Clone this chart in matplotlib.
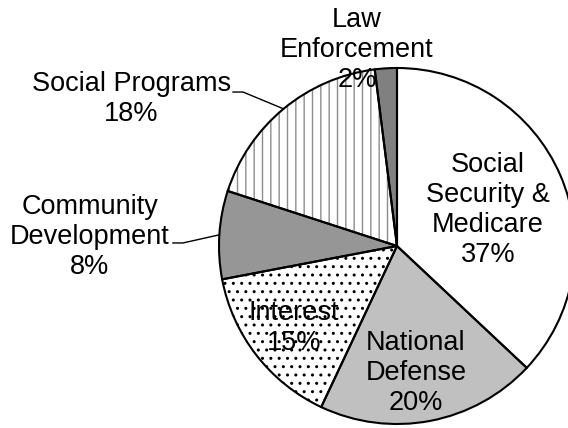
import numpy as np
import matplotlib
matplotlib.use("Agg")
import matplotlib.pyplot as plt

plt.rcParams['font.family'] = ['Liberation Sans', 'DejaVu Sans']
plt.rcParams['hatch.linewidth'] = 1.0

# Federal spending shares, clockwise from the top
labels = ["Social\nSecurity &\nMedicare", "National\nDefense", "Interest",
          "Community\nDevelopment", "Social Programs", "Law\nEnforcement"]
shares = [37, 20, 15, 8, 18, 2]

face_colors = ["white", "#c0c0c0", "white", "#969696", "white", "#808080"]
hatches = [None, None, "..", None, "||", None]
hatch_colors = ["black", "black", "black", "black", "#8c8c8c", "black"]

# label centres in pie-radius units
label_pos = [(0.51, 0.20), (0.107, -0.713), (-0.579, -0.461),
             (-1.725, 0.05), (-1.494, 0.826), (-0.225, 1.10)]

fig = plt.figure(figsize=(5.68, 4.28), dpi=100)
ax = fig.add_axes([0, 0, 1, 1])

# filled, hatched wedges (hatch colour follows the edge colour)
wedges, _ = ax.pie(shares, startangle=90, counterclock=False, radius=1,
                   colors=face_colors,
                   wedgeprops=dict(linewidth=0))
for w, h, hc in zip(wedges, hatches, hatch_colors):
    w.set_edgecolor(hc)
    if h:
        w.set_hatch(h)

# black outlines on top
outline, _ = ax.pie(shares, startangle=90, counterclock=False, radius=1,
                    wedgeprops=dict(facecolor="none", edgecolor="black", linewidth=1.5))

for (x, y), lab, s in zip(label_pos, labels, shares):
    ax.text(x, y, f"{lab}\n{s}%", ha="center", va="center", fontsize=19.5,
            linespacing=1.2)

# leader lines for the two outside labels
leaders = {3: (-1.259, -1.203, 0.017), 4: (-0.921, -0.865, 0.865)}
for i, (x0, x1, yl) in leaders.items():
    w = wedges[i]
    mid = np.deg2rad((w.theta1 + w.theta2) / 2)
    ax.plot([x0, x1, np.cos(mid)], [yl, yl, np.sin(mid)], color="black", lw=1)

ax.set_xlim(-397 / 178, (568 - 397) / 178)
ax.set_ylim(-(428 - 246) / 178, 246 / 178)
ax.axis("off")

fig.savefig("out.png", dpi=100)
